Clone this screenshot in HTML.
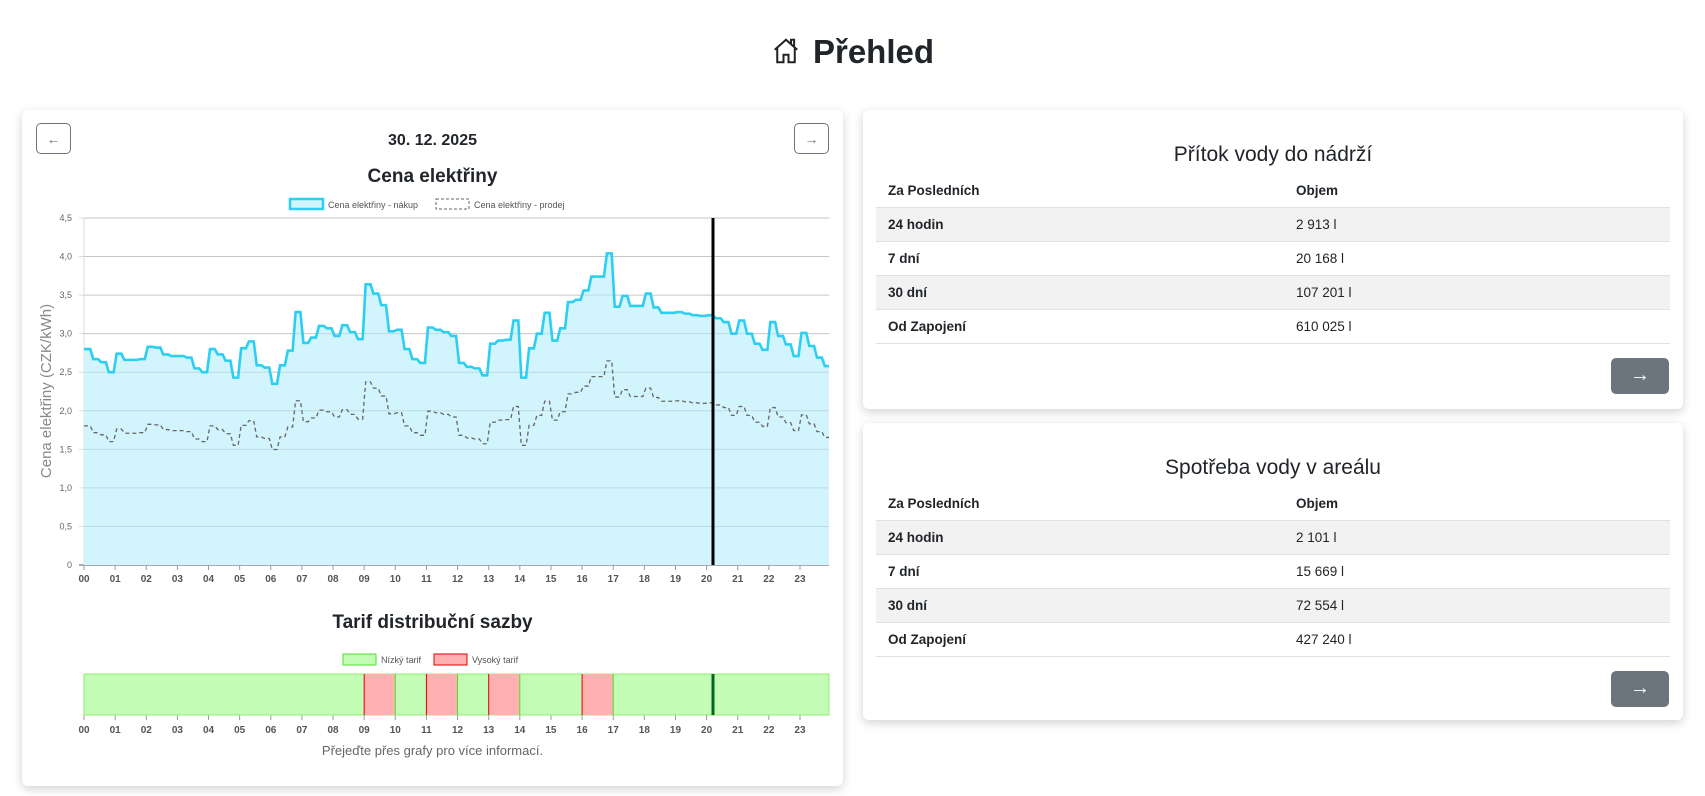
<!DOCTYPE html>
<html><head><meta charset="utf-8">
<style>
*{box-sizing:border-box;margin:0;padding:0}
body{width:1705px;height:796px;background:#fff;font-family:"Liberation Sans",sans-serif;color:#212529;position:relative;overflow:hidden}
.abs{position:absolute}
.card{position:absolute;background:#fff;border-radius:6px;box-shadow:0 3px 10px rgba(0,0,0,0.18)}
.btn{position:absolute;border:1px solid #6c757d;border-radius:5px;background:#fff;color:#6c757d;text-align:center;font-size:14px;line-height:30px}
table{position:absolute;border-collapse:collapse;font-size:13.5px}
td{height:34px;padding-left:12px;border-bottom:1px solid #dee2e6}
tr.h td{font-weight:bold;height:33px}
tr.s td{background:#f2f2f2}
td.l{font-weight:bold;width:408px}
.go{position:absolute;width:58px;height:36px;background:#6c757d;border-radius:5px;color:#fff;text-align:center;line-height:34px;font-size:20px}
</style></head><body>
<div class="abs" style="left:0;width:1705px;top:30px;text-align:center;font-size:33px;font-weight:bold;line-height:44px">
<svg width="30" height="30" viewBox="0 0 24 24" style="vertical-align:-3px;margin-right:12px" fill="none" stroke="#222" stroke-width="1.6"><path d="M3 11 L12 3 L21 11 M5 9.5 V21 H10 V15 H14 V21 H19 V9.5 M16 6 V3 H18.5 V8"/></svg>Přehled</div>

<div class="card" style="left:22px;top:110px;width:821px;height:676px"></div>
<div class="btn" style="left:36px;top:123px;width:35px;height:31px">←</div>
<div class="btn" style="left:794px;top:123px;width:35px;height:31px">→</div>
<div class="abs" style="left:22px;width:821px;top:132px;text-align:center;font-weight:bold;font-size:16px">30. 12. 2025</div>
<div class="abs" style="left:22px;width:821px;top:166px;text-align:center;font-size:19px;font-weight:600">Cena elektřiny</div>
<div class="abs" style="left:22px;width:821px;top:612px;text-align:center;font-size:19px;font-weight:600">Tarif distribuční sazby</div>
<div class="abs" style="left:22px;width:821px;top:743px;text-align:center;font-size:13px;color:#666">Přejeďte přes grafy pro více informací.</div>

<svg class="abs" style="left:0;top:0" width="860" height="796" id="ch" font-family="Liberation Sans, sans-serif"></svg>

<div class="card" style="left:863px;top:110px;width:820px;height:299px"></div>
<div class="abs" style="left:863px;width:820px;top:143px;text-align:center;font-size:21px">Přítok vody do nádrží</div>
<table style="left:876px;top:174px;width:794px">
<tr class="h"><td class="l">Za Posledních</td><td>Objem</td></tr>
<tr class="s"><td class="l">24 hodin</td><td>2 913 l</td></tr>
<tr><td class="l">7 dní</td><td>20 168 l</td></tr>
<tr class="s"><td class="l">30 dní</td><td>107 201 l</td></tr>
<tr><td class="l">Od Zapojení</td><td>610 025 l</td></tr>
</table>
<div class="go" style="left:1611px;top:358px">→</div>

<div class="card" style="left:863px;top:423px;width:820px;height:297px"></div>
<div class="abs" style="left:863px;width:820px;top:456px;text-align:center;font-size:21px">Spotřeba vody v areálu</div>
<table style="left:876px;top:487px;width:794px">
<tr class="h"><td class="l">Za Posledních</td><td>Objem</td></tr>
<tr class="s"><td class="l">24 hodin</td><td>2 101 l</td></tr>
<tr><td class="l">7 dní</td><td>15 669 l</td></tr>
<tr class="s"><td class="l">30 dní</td><td>72 554 l</td></tr>
<tr><td class="l">Od Zapojení</td><td>427 240 l</td></tr>
</table>
<div class="go" style="left:1611px;top:671px">→</div>

<script>
var buy=[2.8,2.67,2.63,2.5,2.74,2.66,2.66,2.67,2.83,2.82,2.73,2.71,2.71,2.69,2.55,2.5,2.8,2.73,2.65,2.43,2.81,2.9,2.59,2.56,2.35,2.59,2.78,3.28,2.88,2.95,3.1,3.07,2.97,3.11,3.02,2.93,3.64,3.52,3.37,3.03,3.05,2.8,2.67,2.62,3.08,3.05,3.02,2.97,2.62,2.57,2.55,2.46,2.87,2.91,2.92,3.17,2.43,2.81,3.0,3.27,2.91,3.07,3.41,3.44,3.56,3.74,3.74,4.04,3.35,3.49,3.36,3.36,3.52,3.34,3.27,3.27,3.28,3.26,3.24,3.23,3.24,3.2,3.15,3.0,3.17,3.0,2.87,2.79,3.15,2.97,2.86,2.71,3.01,2.84,2.69,2.58];
var X0=84,HW=31.13,Y0=565,YS=(565-218)/4.5,XE=829;
function X(h){return X0+h*HW}function Y(v){return Y0-v*YS}
var s='';
for(var i=0;i<=9;i++){var y=Y(i*0.5);s+='<line x1="'+(X0-5)+'" x2="'+XE+'" y1="'+y+'" y2="'+y+'" stroke="'+(i==0?'#555':'#ddd')+'" stroke-width="1"/>';
s+='<text x="'+(X0-12)+'" y="'+(y+3)+'" font-size="9" fill="#666" text-anchor="end">'+(i==0?'0':(i*0.5).toFixed(1).replace('.',','))+'</text>';}
s+='<line x1="'+X0+'" x2="'+X0+'" y1="218" y2="565" stroke="#ddd"/>';
var d='',ds='';
for(var k=0;k<96;k++){var x1=X(k/4)+(k?1.5:0),x2=Math.min(X((k+1)/4)-1.5,XE);var y=Y(buy[k]);d+=(k==0?'M':'L')+x1+' '+y+'L'+x2+' '+y;
var sv=buy[k]*0.68-0.1;var ys=Y(sv);ds+=(k==0?'M':'L')+x1+' '+ys+'L'+x2+' '+ys;}
s+='<path d="'+d+'L'+XE+' '+Y0+'L'+X0+' '+Y0+'Z" fill="#d2f4fc"/>';
for(var i=1;i<=9;i++){var y=Y(i*0.5);s+='<line x1="'+X0+'" x2="'+XE+'" y1="'+y+'" y2="'+y+'" stroke="rgba(0,0,0,0.1)"/>';}
s+='<path d="'+ds+'" fill="none" stroke="#666" stroke-width="1.3" stroke-dasharray="4,3"/>';
s+='<path d="'+d+'" fill="none" stroke="#2ccff2" stroke-width="2.6"/>';
s+='<line x1="713" x2="713" y1="218" y2="565" stroke="#000" stroke-width="3"/>';
for(var h=0;h<24;h++){var x=X(h);var t=(h<10?'0':'')+h;
s+='<line x1="'+x+'" x2="'+x+'" y1="565" y2="570" stroke="#999"/><text x="'+x+'" y="582" font-size="10" font-weight="bold" fill="#555" text-anchor="middle">'+t+'</text>';
s+='<line x1="'+x+'" x2="'+x+'" y1="715" y2="720" stroke="#999"/><text x="'+x+'" y="733" font-size="10" font-weight="bold" fill="#555" text-anchor="middle">'+t+'</text>';}
s+='<text transform="translate(51,391) rotate(-90)" font-size="15" fill="#888" text-anchor="middle">Cena elektřiny (CZK/kWh)</text>';
s+='<rect x="290" y="199" width="33" height="10" fill="#d2f4fc" stroke="#2ccff2" stroke-width="2.5"/><text x="328" y="208" font-size="9" fill="#555">Cena elektřiny - nákup</text>';
s+='<rect x="436" y="199" width="33" height="10" fill="none" stroke="#666" stroke-dasharray="3,2"/><text x="474" y="208" font-size="9" fill="#555">Cena elektřiny - prodej</text>';
s+='<rect x="343" y="654" width="33" height="11" fill="#c3fcb4" stroke="#4be02a"/><text x="381" y="663" font-size="9" fill="#555">Nízký tarif</text>';
s+='<rect x="434" y="654" width="33" height="11" fill="#ffb1b1" stroke="#d00"/><text x="472" y="663" font-size="9" fill="#555">Vysoký tarif</text>';
s+='<rect x="'+X0+'" y="674" width="'+(XE-X0)+'" height="41" fill="#c3fcb4" stroke="#90ee70"/>';
[9,11,13,16].forEach(function(h){s+='<rect x="'+X(h)+'" y="674" width="'+HW+'" height="41" fill="#ffb1b1"/><line x1="'+X(h)+'" x2="'+X(h)+'" y1="674" y2="715" stroke="#d00"/><line x1="'+X(h+1)+'" x2="'+X(h+1)+'" y1="674" y2="715" stroke="#4be02a"/>';});
s+='<line x1="713" x2="713" y1="674" y2="715" stroke="#062" stroke-width="3"/>';
document.getElementById('ch').innerHTML=s;
</script>
</body></html>
